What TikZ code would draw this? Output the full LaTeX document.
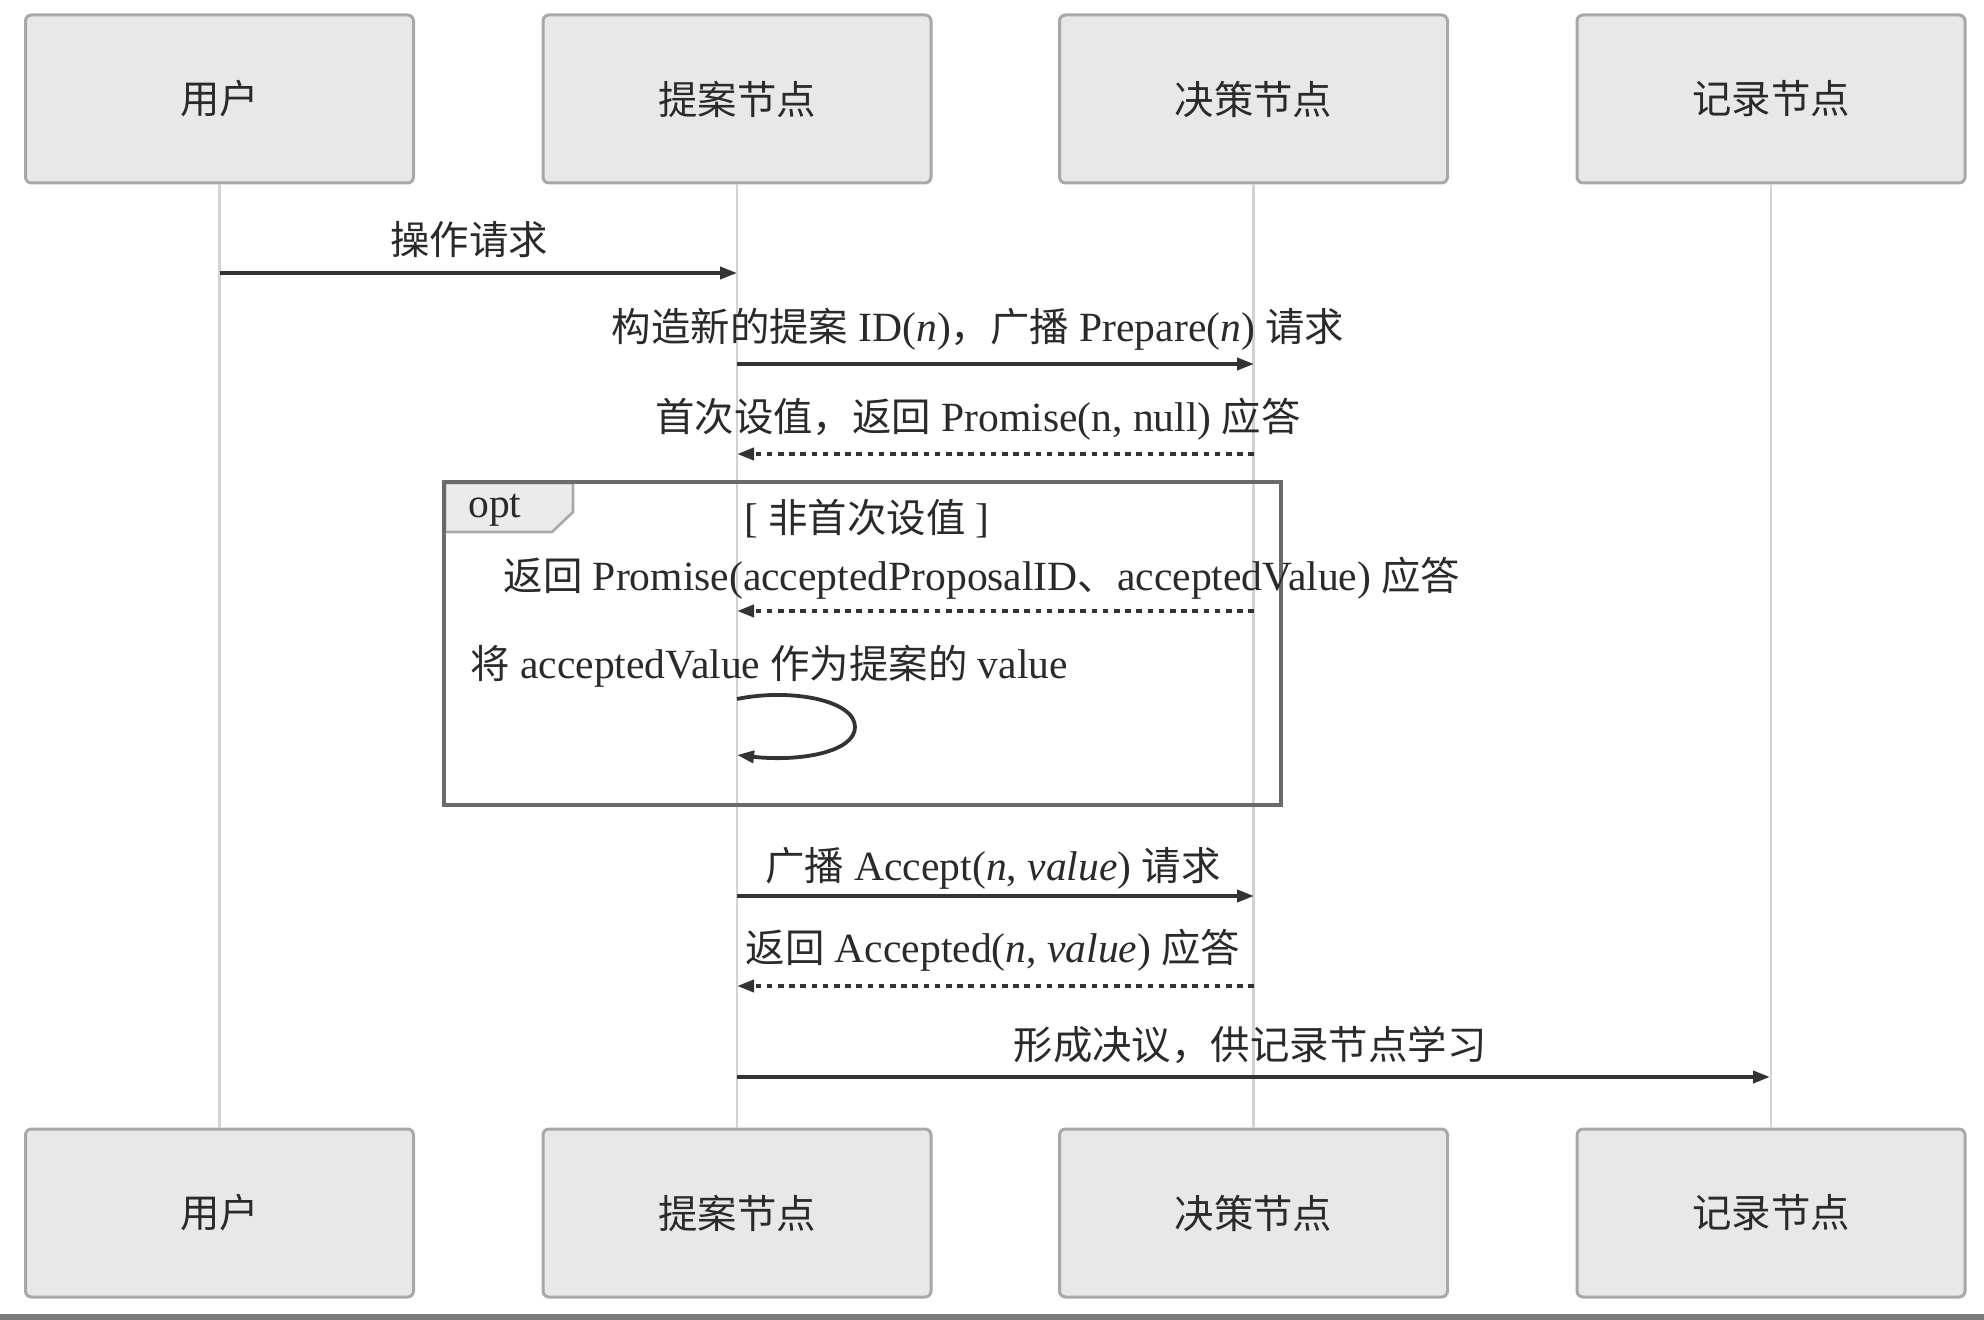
\documentclass[tikz,border=0pt]{standalone}
\usepackage{fontspec}
\setmainfont[Scale=1.055]{Liberation Serif}
\newfontfamily\cjk{Noto Sans CJK SC}
\usetikzlibrary{arrows.meta}
\definecolor{boxfill}{HTML}{E8E8E8}
\definecolor{boxline}{HTML}{A8A8A8}
\definecolor{lifeline}{HTML}{D2D2D2}
\definecolor{msgcol}{HTML}{333333}
\definecolor{txtcol}{HTML}{2A2A2A}
\definecolor{framecol}{HTML}{6A6A6A}
\definecolor{tabfill}{HTML}{EBEBEB}
\definecolor{tabline}{HTML}{A8A8A8}
\definecolor{barcol}{HTML}{7A7A7A}
\tikzset{
  actor/.style={draw=boxline, fill=boxfill, line width=1.5pt, rounded corners=3pt,
    minimum width=194pt, minimum height=84pt, inner sep=0pt, text=txtcol,
    font=\fontsize{19.7}{24}\selectfont\cjk},
  life/.style={draw=lifeline, line width=1.1pt},
  msg/.style={draw=msgcol, line width=1.9pt, -{Triangle[length=8.5pt,width=6pt]}},
  reply/.style={draw=msgcol, line width=1.9pt, dash pattern=on 2.8pt off 2.8pt,
    -{Triangle[length=8.5pt,width=6pt]}},
  lbl/.style={text=txtcol, inner sep=0pt, font=\fontsize{19.7}{24}\selectfont},
  frame/.style={draw=framecol, line width=1.8pt},
}
\begin{document}
\begin{tikzpicture}[x=0.5pt,y=-0.5pt]
\useasboundingbox (0,0) rectangle (1984,1320);
\fill[white] (0,0) rectangle (1984,1320);
\fill[barcol] (0,1314) rectangle (1984,1320);

% actors top
\node[actor] (u1) at (219.5,99) {用户};
\node[actor] (p1) at (737,99) {提案节点};
\node[actor] (d1) at (1253.5,99) {决策节点};
\node[actor] (r1) at (1771,99) {记录节点};
% actors bottom
\node[actor] (u2) at (219.5,1213) {用户};
\node[actor] (p2) at (737,1213) {提案节点};
\node[actor] (d2) at (1253.5,1213) {决策节点};
\node[actor] (r2) at (1771,1213) {记录节点};

% lifelines
\draw[life] (u1.south) -- (u2.north);
\draw[life] (p1.south) -- (p2.north);
\draw[life] (d1.south) -- (d2.north);
\draw[life] (r1.south) -- (r2.north);

% opt frame
\draw[frame] (444,482) rectangle (1281,805);
\node[lbl, anchor=center] (optguard) at (867,519) {[ {\cjk 非首次设值} ]};
\filldraw[fill=tabfill, draw=tabline, line width=1.3pt]
  (445,483) -- (573,483) -- (573,512) -- (552,532) -- (445,532) -- cycle;
\draw[frame] (444,482) -- (444,533);
\draw[frame] (444,482) -- (574,482);
\node[lbl, anchor=west] (opttag) at (468,510) {opt};

% message endpoints
\coordinate (a1) at (220,273);   \coordinate (a2) at (737,273);
\coordinate (b1) at (737,364);   \coordinate (b2) at (1254,364);
\coordinate (c1) at (1254,454);  \coordinate (c2) at (737,454);
\coordinate (e1) at (1254,611);  \coordinate (e2) at (737,611);
\coordinate (f1) at (737,699);   \coordinate (f2) at (737,755);
\coordinate (g1) at (737,896);   \coordinate (g2) at (1254,896);
\coordinate (h1) at (1254,986);  \coordinate (h2) at (737,986);
\coordinate (k1) at (737,1077);  \coordinate (k2) at (1770,1077);

% messages
\node[lbl] (t1) at (469,240) {\cjk 操作请求};
\draw[msg] (a1) -- (a2);

\node[lbl] (t2) at (978,329) {{\cjk 构造新的提案} ID(\textit{n}){\cjk ，广播} Prepare(\textit{n}) {\cjk 请求}};
\draw[msg] (b1) -- (b2);

\node[lbl] (t3) at (978,419) {{\cjk 首次设值，返回} Promise(n, null) {\cjk 应答}};
\draw[reply] (c1) -- (c2);

\node[lbl] (t4) at (982,578) {{\cjk 返回} Promise(acceptedProposalID{\cjk 、}acceptedValue) {\cjk 应答}};
\draw[reply] (e1) -- (e2);

\node[lbl, anchor=west] (t5) at (470,666) {{\cjk 将} acceptedValue {\cjk 作为提案的} value};
\draw[msg] (f1) .. controls (790,688) and (855,700) .. (855,727)
  .. controls (855,752) and (800,762) .. (f2);

\node[lbl] (t6) at (993,868) {{\cjk 广播} Accept(\textit{n}, \textit{value}) {\cjk 请求}};
\draw[msg] (g1) -- (g2);

\node[lbl] (t7) at (993,950) {{\cjk 返回} Accepted(\textit{n}, \textit{value}) {\cjk 应答}};
\draw[reply] (h1) -- (h2);

\node[lbl] (t8) at (1250,1045) {\cjk 形成决议，供记录节点学习};
\draw[msg] (k1) -- (k2);
\end{tikzpicture}
\end{document}
